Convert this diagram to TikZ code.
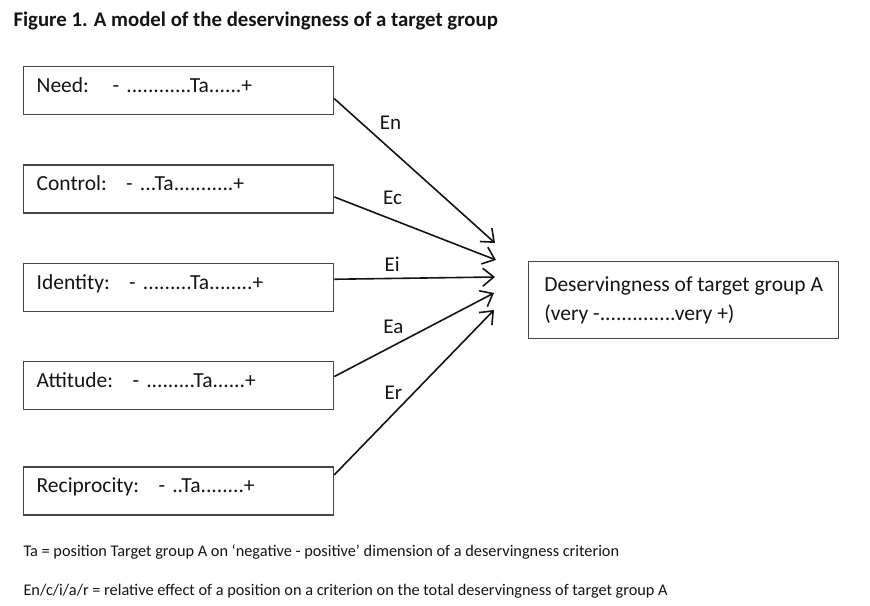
\documentclass[tikz,border=0pt]{standalone}
\usepackage{fontspec}
\setmainfont{Carlito}
\usepackage{tikz}
\usetikzlibrary{arrows.meta,positioning}
\usepackage{xcolor}
\definecolor{boxgray}{RGB}{70,70,70}
\definecolor{inkblack}{RGB}{20,20,20}
\tikzstyle{arrow} = [line width=1.6pt,-{Straight Barb[length=11pt,width=18pt]},color=inkblack]
\tikzstyle{critbox} = [rectangle, draw=boxgray, line width=1.3pt, minimum width=310pt, minimum height=48pt, text width=284pt, align=left, inner xsep=13pt, inner ysep=0pt, text height=26pt, text depth=22pt, font=\fontsize{21.5}{28}\selectfont]
\tikzstyle{targetbox} = [rectangle, draw=boxgray, line width=1.3pt, minimum width=310pt, minimum height=77pt, align=left, font=\fontsize{21.5}{29}\selectfont]
\tikzstyle{elabel} = [inner sep=0pt, font=\fontsize{21}{24}\selectfont]
\tikzstyle{note} = [anchor=base west, font=\fontsize{16.3}{20}\selectfont]

\begin{document}
\begin{tikzpicture}[x=1pt, y=-1pt, node distance=49pt, text=inkblack]
\useasboundingbox (0,0) rectangle (870,605);
% Title
\node (title) [anchor=base west, font=\bfseries\fontsize{20.8}{24}\selectfont] at (10,26) {Figure 1. A model of the deservingness of a target group};

% Criterion nodes
\node (need) [critbox, anchor=north west] at (23,66) {Need:\hspace{1.1em}- ............Ta......+};
\node (control) [critbox, below=of need] {Control:\hspace{0.9em}- ...Ta...........+};
\node (identity) [critbox, below=of control] {Identity:\hspace{0.9em}- .........Ta........+};
\node (attitude) [critbox, below=of identity] {Attitude:\hspace{0.9em}- .........Ta......+};
\node (reciprocity) [critbox, below=of attitude, yshift=-7pt] {Reciprocity:\hspace{0.9em}- ..Ta........+};

% Target node
\node (target) [targetbox, anchor=north west] at (528,261) {Deservingness of target group A\\(very -..............very +)};

% Arrow tips
\coordinate (tipn) at (495,243);
\coordinate (tipc) at (496,260);
\coordinate (tipi) at (495,277);
\coordinate (tipa) at (494,293);
\coordinate (tipr) at (494,310);

% Arrows
\draw[arrow] ([yshift=-8pt]need.east) -- node[elabel, pos=0.35, above=19pt] {En} (tipn);
\draw[arrow] ([yshift=-8pt]control.east) -- node[elabel, pos=0.36, above=14pt] {Ec} (tipc);
\draw[arrow] ([yshift=8pt]identity.east) -- node[elabel, pos=0.36, above=6pt] {Ei} (tipi);
\draw[arrow] ([yshift=9pt]attitude.east) -- node[elabel, pos=0.37, above=11pt] {Ea} (tipa);
\draw[arrow] ([yshift=16pt]reciprocity.east) -- node[elabel, pos=0.37, above=14pt] {Er} (tipr);

% Legend
\node (note1) [note] at (20,556) {Ta = position Target group A on `negative - positive' dimension of a deservingness criterion};
\node (note2) [note] at (20,595) {En/c/i/a/r = relative effect of a position on a criterion on the total deservingness of target group A};
\end{tikzpicture}
\end{document}
